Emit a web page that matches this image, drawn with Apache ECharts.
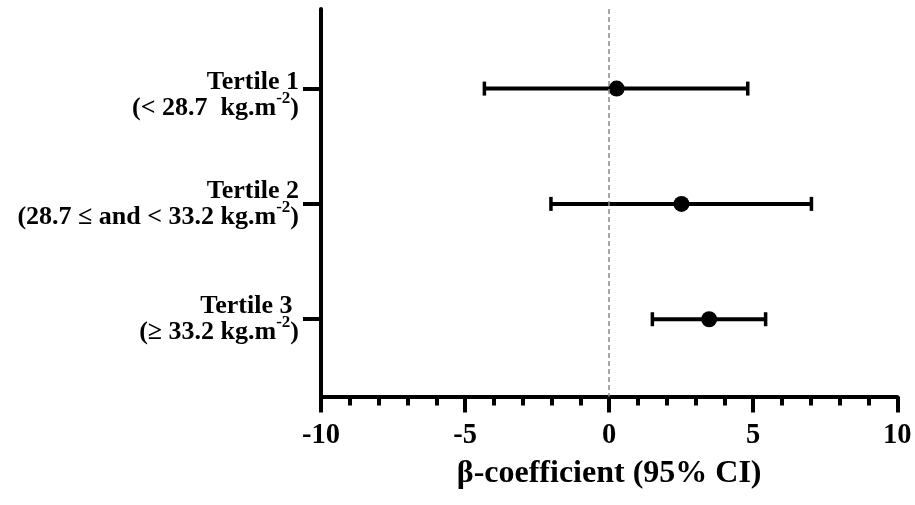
<!DOCTYPE html>
<html><head><meta charset="utf-8">
<script src="https://cdn.jsdelivr.net/npm/echarts@6/dist/echarts.min.js"></script>
<style>html,body{margin:0;padding:0;background:#fff}#c{width:915px;height:505px}</style>
</head><body><div id="c"></div>
<script>
// ---- data ----
const groupTitles = ['Tertile 1', 'Tertile 2', 'Tertile 3 '];
const groupRanges = ['(< 28.7  kg.m', '(28.7 \u2264 and < 33.2 kg.m', '(\u2265 33.2 kg.m'];
const groupPos = [1, 2, 3];
const beta = [0.26, 2.51, 3.47];
const lower = [-4.33, -2.02, 1.50];
const upper = [4.81, 7.02, 5.43];
const xMin = -10, xMax = 10, xStep = 5;
const refLine = 0;
const xTitle = '\u03b2-coefficient (95% CI)';

const FONT = 'Liberation Serif';
const barData = groupPos.map((p, i) => [p, lower[i], upper[i]]);
const pointData = groupPos.map((p, i) => [beta[i], p]);

const chart = echarts.init(document.getElementById('c'));
chart.setOption({
  animation: false,
  backgroundColor: '#fff',
  grid: { left: 321, right: 17.7, top: 9, bottom: 108.5, containLabel: false },
  xAxis: {
    type: 'value', min: xMin, max: xMax, interval: xStep,
    axisLine: { show: true, onZero: false, lineStyle: { color: '#000', width: 4 } },
    axisTick: { show: true, length: 16, lineStyle: { color: '#000', width: 4 } },
    minorTick: { show: true, splitNumber: 5, length: 9, lineStyle: { color: '#000', width: 4 } },
    splitLine: { show: false },
    minorSplitLine: { show: false },
    axisLabel: { fontFamily: FONT, fontWeight: 'bold', fontSize: 28.5, color: '#000', margin: 25 },
    name: xTitle, nameLocation: 'middle', nameGap: 61,
    nameTextStyle: { fontFamily: FONT, fontWeight: 'bold', fontSize: 32, color: '#000' }
  },
  yAxis: {
    type: 'value', inverse: true, min: 0.31, max: 3.67,
    axisLine: { show: true, onZero: false, lineStyle: { color: '#000', width: 4 } },
    axisTick: { show: true, length: 18, customValues: groupPos, lineStyle: { color: '#000', width: 4 } },
    splitLine: { show: false },
    axisLabel: {
      customValues: groupPos,
      margin: 22,
      align: 'right',
      formatter: function (v) {
        const i = groupPos.indexOf(v);
        if (i < 0) return '';
        const pre = i === 0 ? '{pad| }\n' : '';
        return pre + '{t|' + groupTitles[i] + '}\n{t|' + groupRanges[i] + '}{sup|-2}{t|)}';
      },
      rich: {
        t: { fontFamily: FONT, fontWeight: 'bold', fontSize: 26, lineHeight: 26, color: '#000' },
        sup: { fontFamily: FONT, fontWeight: 'bold', fontSize: 17, lineHeight: 1, padding: [0, 0, 19, 0], color: '#000' },
        pad: { fontSize: 10, lineHeight: 14 }
      }
    }
  },
  series: [
    {
      type: 'scatter', data: [], z: 1, silent: true,
      markLine: {
        silent: true, symbol: ['none', 'none'], animation: false,
        label: { show: false },
        lineStyle: { color: '#8a8a8a', width: 1.5, type: [5, 3], opacity: 1 },
        data: [{ xAxis: refLine }]
      }
    },
    {
      type: 'custom', z: 2, silent: true,
      data: barData,
      encode: { x: [1, 2], y: 0 },
      renderItem: function (params, api) {
        const lo = api.coord([api.value(1), api.value(0)]);
        const hi = api.coord([api.value(2), api.value(0)]);
        const h = 7;
        return {
          type: 'group',
          children: [
            { type: 'line', shape: { x1: lo[0], y1: lo[1], x2: hi[0], y2: hi[1] }, style: { stroke: '#000', lineWidth: 4 } },
            { type: 'line', shape: { x1: lo[0], y1: lo[1] - h, x2: lo[0], y2: lo[1] + h }, style: { stroke: '#000', lineWidth: 3.5 } },
            { type: 'line', shape: { x1: hi[0], y1: hi[1] - h, x2: hi[0], y2: hi[1] + h }, style: { stroke: '#000', lineWidth: 3.5 } }
          ]
        };
      }
    },
    {
      type: 'scatter', z: 3, silent: true,
      data: pointData,
      symbol: 'circle', symbolSize: 16,
      itemStyle: { color: '#000', opacity: 1 }
    }
  ]
});
</script>
</body></html>
